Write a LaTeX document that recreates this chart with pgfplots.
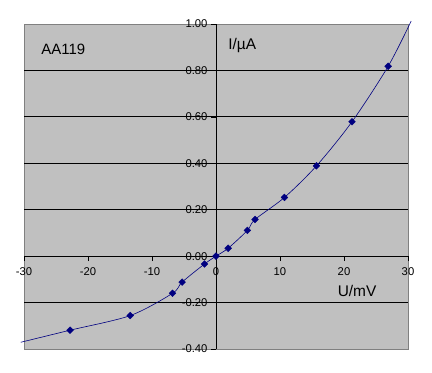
\documentclass[border=0pt]{standalone}
\usepackage{pgfplots}
\pgfplotsset{compat=1.18}
\usepackage{fontspec}
\setmainfont{Liberation Sans}
\definecolor{silverbg}{RGB}{192,192,192}
\definecolor{borderg}{RGB}{128,128,128}
\definecolor{navyc}{RGB}{0,0,128}
\newcommand{\tl}[1]{\fontsize{11.3}{13}\selectfont #1}
\begin{document}
\begin{tikzpicture}
\begin{axis}[
  scale only axis,
  width=384bp, height=325bp,
  xmin=-30, xmax=30, ymin=-0.4, ymax=1.0,
  axis lines=middle,
  axis line style={black, line width=0.8bp, -},
  axis background/.style={fill=silverbg, draw=borderg, line width=0.8bp},
  clip=false,
  xtick={-30,-20,-10,0,10,20,30},
  xticklabels={{\tl{-30}},{\tl{-20}},{\tl{-10}},{\tl{0}},{\tl{10}},{\tl{20}},{\tl{30}}},
  ytick={-0.4,-0.2,0,0.2,0.4,0.6,0.8,1.0},
  yticklabels={{\tl{-0.40}},{\tl{-0.20}},{\tl{0.00}},{\tl{0.20}},{\tl{0.40}},{\tl{0.60}},{\tl{0.80}},{\tl{1.00}}},
  xticklabel shift=3bp,
  hide obscured x ticks=false,
  hide obscured y ticks=false,
  tick align=outside,
  major tick length=5bp,
  tick style={black, line width=0.6bp},
  extra y ticks={-0.2,0.2,0.4,0.6,0.8},
  extra y tick labels={},
  extra y tick style={grid=major, tick style={draw=none}},
  major grid style={black, line width=0.8bp},
]
\addplot[navyc, line width=0.6bp, smooth, tension=0.5, no marks] coordinates {
(-30.5,-0.371) (-22.8,-0.319) (-13.4,-0.256) (-6.8,-0.160) (-5.3,-0.112)
(-1.8,-0.034) (0,0) (1.9,0.034) (4.9,0.111) (6.1,0.158) (10.7,0.253)
(15.7,0.389) (21.25,0.579) (26.9,0.818) (30.5,1.013)
};
\addplot[only marks, mark=square*, mark size=2.4bp, mark options={rotate=45, fill=navyc, draw=navyc}] coordinates {
(-22.8,-0.319) (-13.4,-0.256) (-6.8,-0.160) (-5.3,-0.112)
(-1.8,-0.034) (0,0) (1.9,0.034) (4.9,0.111) (6.1,0.158) (10.7,0.253)
(15.7,0.389) (21.25,0.579) (26.9,0.818)
};
\node[anchor=west, inner sep=0pt, font=\fontsize{15}{18}\selectfont] at (axis cs:-27.3,0.892) {AA119};
\node[anchor=west, inner sep=0pt, font=\fontsize{15.5}{18}\selectfont] at (axis cs:1.9,0.909) {I/µA};
\node[anchor=west, inner sep=0pt, font=\fontsize{15.5}{18}\selectfont] at (axis cs:19.0,-0.151) {U/mV};
\end{axis}
\useasboundingbox ([shift={(-24bp,-24bp)}]current axis.south west) rectangle ([shift={(24bp,24bp)}]current axis.north east);
\end{tikzpicture}
\end{document}
